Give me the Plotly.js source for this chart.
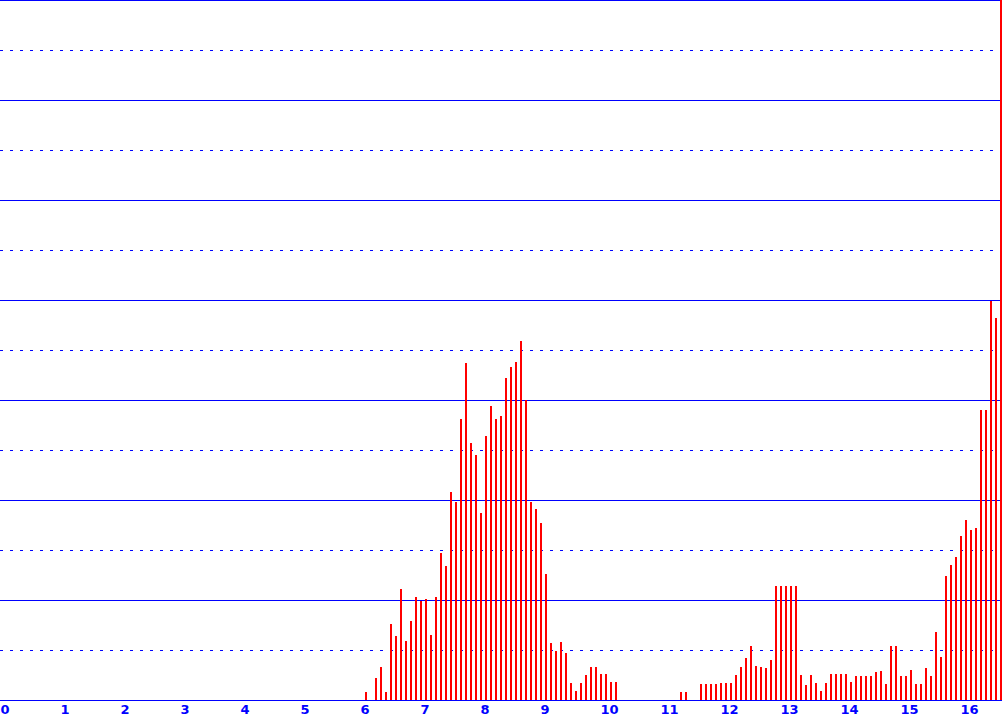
<!DOCTYPE html>
<html>
<head>
<meta charset="utf-8">
<script src="https://cdn.plot.ly/plotly-3.0.1.min.js"></script>
<style>html,body{margin:0;padding:0;background:#fff;}#chart{width:1002px;height:720px;}</style>
</head>
<body>
<div id="chart"></div>
<script>
// Time of each interval start (HH:MM) and measured value
const times = [
"6:05","6:15","6:20","6:25","6:30","6:35","6:40","6:45","6:50","6:55",
"7:00","7:05","7:10","7:15","7:20","7:25","7:30","7:35","7:40","7:45","7:50","7:55",
"8:00","8:05","8:10","8:15","8:20","8:25","8:30","8:35","8:40","8:45","8:50","8:55",
"9:00","9:05","9:10","9:15","9:20","9:25","9:30","9:35","9:40","9:45","9:50","9:55",
"10:00","10:05","10:10","10:15",
"11:20","11:25","11:40","11:45","11:50","11:55",
"12:00","12:05","12:10","12:15","12:20","12:25","12:30","12:35","12:40","12:45","12:50","12:55",
"13:00","13:05","13:10","13:15","13:20","13:25","13:30","13:35","13:40","13:45","13:50","13:55",
"14:00","14:05","14:10","14:15","14:20","14:25","14:30","14:35","14:40","14:45","14:50","14:55",
"15:00","15:05","15:10","15:15","15:20","15:25","15:30","15:35","15:40","15:45","15:50","15:55",
"16:00","16:05","16:10","16:15","16:20","16:25","16:30","16:35","16:40"
];
const values = [
0.8,2.2,3.3,0.8,7.6,6.4,11.1,5.9,7.9,10.3,
9.9,10.1,6.5,10.3,14.7,13.4,20.8,19.8,28.1,33.7,25.7,24.5,
18.7,26.4,29.4,28.1,28.4,32.2,33.3,33.8,35.9,30.0,19.8,19.1,
17.7,12.6,5.7,4.9,5.8,4.7,1.7,0.9,1.7,2.5,3.3,3.3,
2.6,2.6,1.8,1.8,
0.8,0.8,1.6,1.6,1.6,1.6,
1.7,1.7,1.7,2.5,3.3,4.2,5.4,3.4,3.3,3.2,4.0,11.4,
11.4,11.4,11.4,11.4,2.5,1.5,2.5,1.7,0.9,1.7,2.6,2.6,
2.6,2.6,1.8,2.4,2.4,2.4,2.4,2.8,2.9,1.6,5.4,5.4,
2.4,2.4,3.0,1.6,1.6,3.2,2.4,6.8,4.3,12.4,13.5,14.3,
16.4,18.0,17.0,17.2,29.0,29.0,39.9,38.2,72
];
const tickVals = [0,1,2,3,4,5,6,7,8,9,10,11,12,13,14,15,16];
const tickText = ["0","1","2","3","4","5","6","7","8","9","10","11","12","13","14","15","16"];

const hours = times.map(t => { const p = t.split(":"); return (+p[0]) + (+p[1]) / 60; });

const trace = {
  type: "bar",
  x: hours,
  y: values,
  width: 2 / 60,
  offset: 0,
  marker: { color: "#ff0000", line: { width: 0 } },
  hoverinfo: "x+y"
};

const layout = {
  width: 1002, height: 720,
  margin: { l: 0, r: 0, t: 0, b: 20, pad: 0 },
  paper_bgcolor: "#ffffff", plot_bgcolor: "#ffffff",
  showlegend: false,
  bargap: 0,
  xaxis: {
    range: [0, 16.7],
    tickmode: "array", tickvals: tickVals, ticktext: tickText,
    ticklabelposition: "outside right",
    ticklabelstandoff: -3,
    ticks: "", showgrid: false, zeroline: false,
    showline: true, linecolor: "#0000ff", linewidth: 1,
    tickfont: { family: "DejaVu Sans", size: 13, color: "#0000ff", weight: "bold" },
    fixedrange: true
  },
  yaxis: {
    range: [0, 70],
    dtick: 10, tick0: 0,
    showticklabels: false, ticks: "",
    showgrid: true, gridcolor: "#0000ff", gridwidth: 1,
    zeroline: false, showline: false,
    minor: { dtick: 5, tick0: 0, showgrid: true, gridcolor: "#0000ff", gridwidth: 1, griddash: "3px,7px" },
    fixedrange: true
  },
  shapes: [
    { type: "line", xref: "paper", yref: "paper", x0: 0, x1: 1, y0: 1, y1: 1,
      line: { color: "#0000ff", width: 2 }, layer: "below" }
  ]
};

Plotly.newPlot("chart", [trace], layout, { displayModeBar: false, staticPlot: true });
</script>
</body>
</html>
